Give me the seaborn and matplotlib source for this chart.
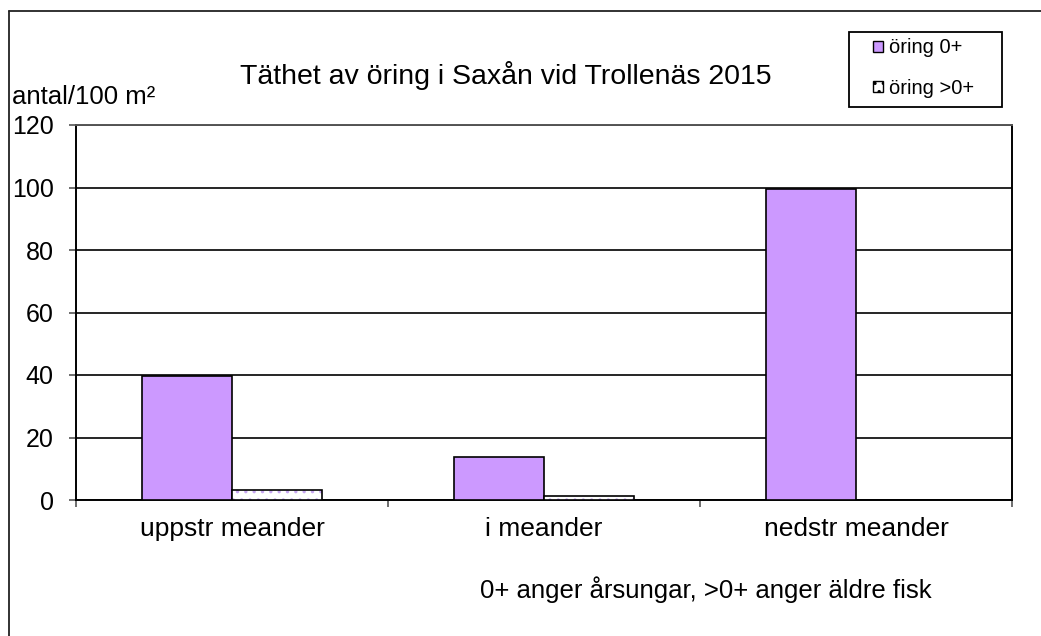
import numpy as np
import pandas as pd
import seaborn as sns
import matplotlib.pyplot as plt
from matplotlib.patches import Patch, Rectangle
from matplotlib.lines import Line2D

# data
categories = ['uppstr meander', 'i meander', 'nedstr meander']
series = ['öring 0+', 'öring >0+']
young = [39.8, 13.9, 99.5]
older = [3.2, 1.3, 0.0]

df = pd.DataFrame({
    'plats': categories * 2,
    'grupp': [series[0]] * 3 + [series[1]] * 3,
    'antal': young + older,
})

purple = '#CC99FF'
dot_color = '#C6A6F0'

sns.set_style('white')
plt.rcParams['font.family'] = ['Liberation Sans', 'DejaVu Sans']
plt.rcParams['text.color'] = 'black'
plt.rcParams['xtick.color'] = 'black'
plt.rcParams['ytick.color'] = 'black'
plt.rcParams['hatch.linewidth'] = 1.2

fig = plt.figure(figsize=(10.41, 6.36), dpi=100, facecolor='white')
ax = fig.add_axes([76 / 1041, 1 - 500 / 636, 936 / 1041, 375 / 636])

sns.barplot(data=df, x='plats', y='antal', hue='grupp', order=categories,
            hue_order=series, palette=[purple, 'white'], width=0.577, gap=0,
            saturation=1, edgecolor='black', linewidth=1.2, ax=ax, legend=False,
            zorder=3)

# dotted fill for the older fish bars
for bar in ax.patches[3:6]:
    bar.set_edgecolor(dot_color)
    bar.set_hatch('..')
    bar.set_linewidth(0)
    ax.add_patch(Rectangle(bar.get_xy(), bar.get_width(), bar.get_height(),
                           fill=False, edgecolor='black', linewidth=1.2, zorder=4))

ax.set_xlim(-0.5, 2.5)
ax.set_ylim(0, 120)
ax.set_yticks(np.arange(0, 121, 20))
ax.yaxis.grid(True, color='black', linewidth=1.2, zorder=0)
ax.set_xlabel('')
ax.set_ylabel('')

ax.set_xticks([0, 1, 2])
ax.set_xticklabels(categories, fontsize=19)
ax.tick_params(axis='x', which='major', length=0, pad=12)
ax.set_xticks([-0.5, 0.5, 1.5, 2.5], minor=True)
ax.tick_params(axis='x', which='minor', length=5, width=1.2, color='#555555',
               direction='out', bottom=True)
ax.tick_params(axis='y', labelsize=18, length=5, width=1.2, direction='out',
               left=True, color='#555555', pad=11)

for s in ['left', 'right', 'top', 'bottom']:
    ax.spines[s].set_visible(True)
    ax.spines[s].set_color('black')
    ax.spines[s].set_linewidth(1.4)
ax.spines['top'].set_color('#555555')

fig.text(506 / 1041, 1 - 75 / 636, 'Täthet av öring i Saxån vid Trollenäs 2015',
         fontsize=20.5, ha='center', va='center')
fig.text(12 / 1041, 1 - 97 / 636, 'antal/100 m²', fontsize=18.5, ha='left',
         va='center')
fig.text(480 / 1041, 1 - 590 / 636, '0+ anger årsungar, >0+ anger äldre fisk',
         fontsize=18.5, ha='left', va='center')

handles = [Patch(facecolor=purple, edgecolor='black', linewidth=1),
           Patch(facecolor='white', edgecolor=dot_color, hatch='..', linewidth=1)]
leg = fig.legend(handles, series, loc='center left',
                 bbox_to_anchor=(873 / 1041, 1 - 68 / 636), fontsize=14.5,
                 frameon=False, handlelength=0.5, handleheight=0.5,
                 handletextpad=0.3, labelspacing=1.05, borderpad=0,
                 borderaxespad=0)
for h in leg.legend_handles:
    h.set_edgecolor('black')
leg.legend_handles[1].set_hatch('..')
fig.add_artist(Rectangle((849 / 1041, 1 - 107 / 636), 153 / 1041, 75 / 636,
                         transform=fig.transFigure, fill=False,
                         edgecolor='black', linewidth=1.3))

# outer frame of the original chart area
fig.add_artist(Line2D([9 / 1041, 9 / 1041], [0, 1 - 11 / 636],
                      color='#222222', linewidth=1.3))
fig.add_artist(Line2D([9 / 1041, 1], [1 - 11 / 636, 1 - 11 / 636],
                      color='#222222', linewidth=1.3))

plt.savefig('out.png', dpi=100, facecolor='white')
